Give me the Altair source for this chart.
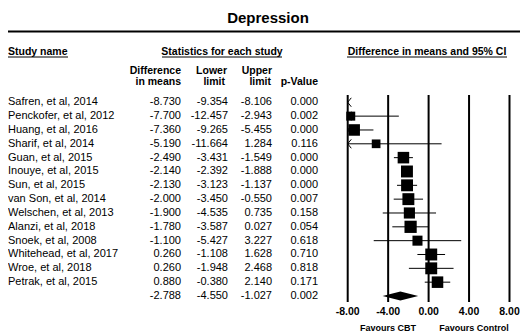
import altair as alt
import pandas as pd

studies = ["Safren, et al, 2014", "Penckofer, et al, 2012", "Huang, et al, 2016", "Sharif, et al, 2014",
           "Guan, et al, 2015", "Inouye, et al, 2015", "Sun, et al, 2015", "van Son, et al, 2014",
           "Welschen, et al, 2013", "Alanzi, et al, 2018", "Snoek, et al, 2008", "Whitehead, et al, 2017",
           "Wroe, et al, 2018", "Petrak, et al, 2015"]
diff = [-8.730, -7.700, -7.360, -5.190, -2.490, -2.140, -2.130, -2.000, -1.900, -1.780, -1.100, 0.260, 0.260, 0.880]
lower = [-9.354, -12.457, -9.265, -11.664, -3.431, -2.392, -3.123, -3.450, -4.535, -3.587, -5.427, -1.108, -1.948, -0.380]
upper = [-8.106, -2.943, -5.455, 1.284, -1.549, -1.888, -1.137, -0.550, 0.735, 0.027, 3.227, 1.628, 2.468, 2.140]
pval = [0.000, 0.002, 0.000, 0.116, 0.000, 0.000, 0.000, 0.007, 0.158, 0.054, 0.618, 0.710, 0.818, 0.171]
weights = [7.9, 4.5, 7.4, 4.2, 7.4, 7.9, 7.9, 7.9, 6.9, 8.3, 5.6, 7.9, 7.9, 7.4]
summary = [-2.788, -4.550, -1.027, 0.002]  # diff, lower, upper, p
ticks = [-8, -4, 0, 4, 8]
tick_labels = ["-8.00", "-4.00", "0.00", "4.00", "8.00"]
favours = ["Favours CBT", "Favours Control"]

FONT = "Liberation Sans"
n = len(studies)

rows = pd.DataFrame({
    "row": list(range(n + 1)),
    "study": studies + [""],
    "diff": diff + [summary[0]],
    "lower": lower + [summary[1]],
    "upper": upper + [summary[2]],
    "p": pval + [summary[3]],
})
for c in ["diff", "lower", "upper", "p"]:
    rows[c + "_s"] = [f"{v:.3f}" for v in rows[c]]

st = pd.DataFrame({"row": list(range(n)), "diff": diff, "lower": lower, "upper": upper, "w": weights})

xs = alt.Scale(domain=[-8, 8], range=[339.7, 501.5], clamp=True, nice=False, zero=False)
ys = alt.Scale(domain=[0, 14], range=[94.3, 288], nice=False, zero=False)

one = pd.DataFrame({"a": [0]})


def label(text, x, y, align="center", size=10.5, weight="bold", baseline="middle"):
    return alt.Chart(pd.DataFrame({"t": [text]})).mark_text(
        font=FONT, fontSize=size, fontWeight=weight, align=align, baseline=baseline, color="black"
    ).encode(x=alt.value(x), y=alt.value(y), text="t:N")


def hrule(x1, x2, y, w=1):
    return alt.Chart(one).mark_rule(color="black", strokeWidth=w).encode(
        x=alt.value(x1), x2=alt.value(x2), y=alt.value(y))


layers = []
layers.append(label("Depression", 260, 15, size=15, baseline="alphabetic"))
layers.append(hrule(-1, 512, 23.5, 2))
layers.append(label("Study name", 0, 43.7, align="left"))
layers.append(hrule(0, 60, 49))
layers.append(label("Statistics for each study", 214, 43.7))
layers.append(hrule(154, 274, 49))
layers.append(label("Difference in means and 95% CI", 419, 43.7))
layers.append(hrule(339, 499, 49))
layers.append(label("Difference", 173, 63, align="right"))
layers.append(label("in means", 173, 74, align="right"))
layers.append(label("Lower", 219, 63, align="right"))
layers.append(label("limit", 217, 74, align="right"))
layers.append(label("Upper", 264, 63, align="right"))
layers.append(label("limit", 263, 74, align="right"))
layers.append(label("p-Value", 310, 74, align="right"))

base_rows = alt.Chart(rows)
layers.append(base_rows.mark_text(font=FONT, fontSize=11, align="left", baseline="middle", color="black").encode(
    x=alt.value(0), y=alt.Y("row:Q", scale=ys, axis=None), text="study:N"))
for col, xr in [("diff_s", 173), ("lower_s", 220), ("upper_s", 264), ("p_s", 310)]:
    layers.append(base_rows.mark_text(font=FONT, fontSize=11, align="right", baseline="middle", color="black").encode(
        x=alt.value(xr), y=alt.Y("row:Q", scale=ys, axis=None), text=f"{col}:N"))

tk = pd.DataFrame({"tick": ticks, "lab": tick_labels})
layers.append(alt.Chart(tk).mark_rule(color="black", strokeWidth=2).encode(
    x=alt.X("tick:Q", scale=xs, axis=None), y=alt.value(87), y2=alt.value(294)))
layers.append(alt.Chart(tk).mark_text(font=FONT, fontSize=10.5, fontWeight="bold", baseline="middle", color="black").encode(
    x=alt.X("tick:Q", scale=xs, axis=None), y=alt.value(304), text="lab:N"))

base_st = alt.Chart(st)
layers.append(base_st.mark_rule(color="black", strokeWidth=1).encode(
    x=alt.X("lower:Q", scale=xs, axis=None), x2="upper:Q", y=alt.Y("row:Q", scale=ys, axis=None)))
layers.append(base_st.transform_filter("datum.lower < -8").mark_point(
    shape="M0.8,-1L0,0L0.8,1", filled=False, color="black", strokeWidth=1, size=80, opacity=1).encode(
    x=alt.X("lower:Q", scale=xs, axis=None), y=alt.Y("row:Q", scale=ys, axis=None)))
layers.append(base_st.transform_filter("datum.diff >= -8").mark_square(
    filled=True, color="black", opacity=1).encode(
    x=alt.X("diff:Q", scale=xs, axis=None), y=alt.Y("row:Q", scale=ys, axis=None),
    size=alt.Size("w:Q", scale=alt.Scale(domain=[0, 10], range=[0, 180]), legend=None)))

half = 0.33
dm = pd.DataFrame({
    "x": [summary[1], summary[0], summary[2]],
    "y1": [n, n - half, n],
    "y2": [n, n + half, n],
})
layers.append(alt.Chart(dm).mark_area(color="black", orient="vertical", opacity=1).encode(
    x=alt.X("x:Q", scale=xs, axis=None), y=alt.Y("y1:Q", scale=ys, axis=None), y2="y2:Q"))

layers.append(label(favours[0], 380, 319.5, size=9))
layers.append(label(favours[1], 466, 319.5, size=9))

chart = alt.layer(*layers).properties(
    width=512, height=326, padding=0, autosize="none"
).configure_view(stroke=None)

chart.save("out.html", embed_options={"renderer": "svg", "actions": False})
